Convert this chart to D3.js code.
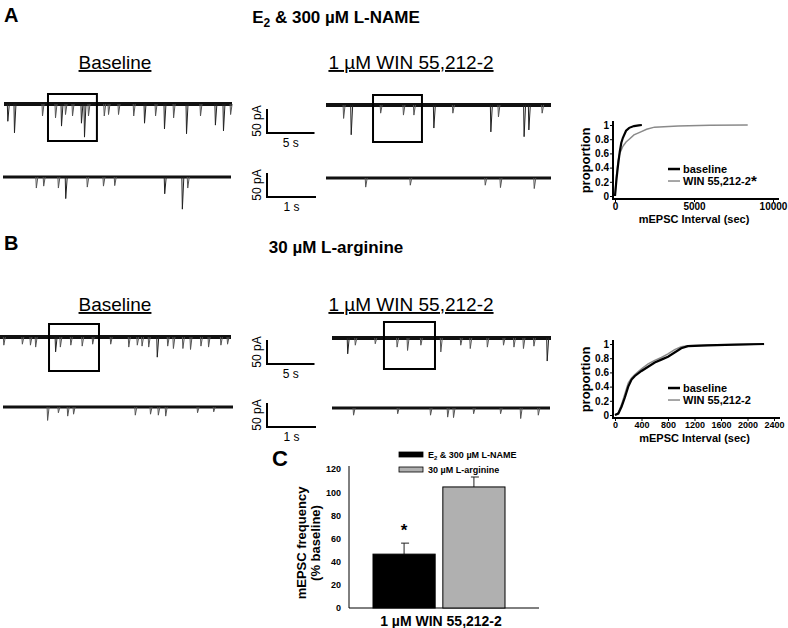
<!DOCTYPE html>
<html>
<head>
  <meta charset="UTF-8">
  <style>
    body { margin: 0; background: #fff; }
    svg text { font-family: Arial, "Liberation Sans", sans-serif; }
  </style>
</head>
<body>
<div id="fig"></div>
<script src="https://d3js.org/d3.v7.min.js"></script>
<script>

const width = 788, height = 628;

// ---- trace events: [time (s), amplitude (pA)] ----
const aBaseTop = [[0.35,36],[1.05,60],[4.0,25],[5.37,29],[6.0,46],[6.42,22],[7.16,25],[8.1,40],[8.42,69],[8.84,25],[10.5,25],[10.95,22],[12.0,22],[13.6,25],[14.74,40],[15.9,25],[16.84,52],[17.8,29],[19.16,62],[20.63,25],[22.2,44],[23.05,56],[23.8,22]];
const aBaseZoom = [[0.67,23],[0.82,19],[1.12,23],[1.27,45],[1.71,21],[2.04,19],[2.27,18],[3.29,35],[3.65,67],[3.76,23]];
const aWinTop = [[1.8,28],[2.6,62],[5.7,17],[8.1,21],[9.2,21],[11.3,48],[13.3,17],[17.3,56],[18.1,25],[20.8,66],[21.3,52],[22.7,17]];
const aWinZoom = [[0.8,19],[1.71,15],[3.24,15],[3.55,20],[4.24,22]];
const bBaseTop = [[0.35,17],[2.3,15],[3.15,17],[3.7,21],[5.8,31],[6.3,21],[7.4,17],[8.6,19],[9.7,15],[11.6,15],[13.5,21],[14.4,17],[14.9,19],[15.6,21],[16.5,42],[17.6,19],[18.2,24],[19.2,24],[20.0,26],[21.1,19],[21.9,21],[23.2,17],[23.9,15]];
const bBaseZoom = [[0.9,28],[1.12,12],[1.31,19],[1.43,15],[2.69,17],[3.0,15],[3.16,17],[3.31,19],[3.96,12],[4.29,10]];
const bWinTop = [[1.6,33],[2.4,15],[4.5,12],[6.8,19],[7.9,26],[9.3,15],[11.4,29],[13.5,15],[14.5,22],[16.3,19],[18.0,15],[19.1,19],[20.1,22],[21.2,17],[22.6,48]];
const bWinZoom = [[0.43,15],[1.33,12],[2.0,15],[2.35,19],[2.47,20],[2.88,12],[3.43,12],[3.84,22],[4.2,15]];

// ---- cumulative distributions: [interval (sec), proportion] ----
const cumABase = [[0,0],[100,0.25],[200,0.45],[300,0.62],[400,0.75],[500,0.82],[700,0.92],[900,0.96],[1200,0.985],[1500,0.995],[1700,1]];
const cumAWin = [[0,0],[100,0.3],[200,0.5],[300,0.6],[500,0.7],[700,0.76],[900,0.8],[1200,0.86],[1600,0.9],[2000,0.94],[2500,0.97],[4000,0.985],[6000,0.995],[8400,1]];
const cumBBase = [[0,0],[50,0.02],[100,0.12],[150,0.25],[200,0.4],[250,0.5],[300,0.55],[400,0.62],[500,0.68],[600,0.74],[700,0.78],[800,0.82],[900,0.88],[1000,0.94],[1100,0.97],[1400,0.98],[1800,0.99],[2250,1]];
const cumBWin = [[0,0],[50,0.03],[100,0.15],[150,0.3],[200,0.45],[250,0.52],[300,0.57],[400,0.65],[500,0.72],[600,0.77],[700,0.81],[800,0.86],[900,0.92],[1000,0.96],[1100,0.975],[1400,0.985],[1800,0.99],[2250,1]];
const cumATicksX = [0, 5000, 10000];
const cumBTicksX = [0, 400, 800, 1200, 1600, 2000, 2400];
const propTicks = [0, 0.2, 0.4, 0.6, 0.8, 1];

// ---- bar chart C ----
const barGroups = ["E2 & 300 µM L-NAME", "30 µM L-arginine"];
const barValues = [46.5, 104.5];
const barErrors = [9.5, 8.6];
const barColors = ["#000000", "#b0b0b0"];
const barTicks = [0, 20, 40, 60, 80, 100, 120];

let svg = d3.select("#fig")
  .append("svg")
  .attr("width", width)
  .attr("height", height);

// panel letters + titles
function txt(x, y, s, size, weight, anchor) {
  return svg.append("text").attr("x", x).attr("y", y)
    .attr("font-size", size).attr("font-weight", weight || "normal")
    .attr("text-anchor", anchor || "start").text(s);
}
txt(4, 22, "A", 20, "bold");
txt(4, 250, "B", 20, "bold");

let t1 = svg.append("text").attr("x", 336).attr("y", 23).attr("font-size", 17)
  .attr("font-weight", "bold").attr("text-anchor", "middle");
t1.append("tspan").text("E");
t1.append("tspan").attr("font-size", 12).attr("dy", 4).text("2");
t1.append("tspan").attr("dy", -4).text(" & 300 µM L-NAME");
txt(336, 253, "30 µM L-arginine", 17, "bold", "middle");

// underlined condition labels
[[115, 69], [115, 311]].forEach(p => txt(p[0], p[1], "Baseline", 19, "normal", "middle").attr("text-decoration", "underline"));
[[411, 69], [411, 311]].forEach(p => txt(p[0], p[1], "1 µM WIN 55,212-2", 19, "normal", "middle").attr("text-decoration", "underline"));

// ---- traces ----
const pxPerPA = 24 / 50;
function drawTrace(events, x0, x1, y0, pps, band) {
  let x = d3.scaleLinear().domain([0, (x1 - x0) / pps]).range([x0, x1]);
  let y = d3.scaleLinear().domain([0, 50]).range([y0, y0 + 50 * pxPerPA]);
  let g = svg.append("g");
  g.append("line").attr("x1", x0).attr("x2", x1).attr("y1", y0).attr("y2", y0)
    .attr("stroke", "#111").attr("stroke-width", band);
  g.selectAll("path").data(events).enter().append("path")
    .attr("d", d => "M" + x(d[0]) + "," + y0 + "L" + (x(d[0]) + 0.5) + "," + y(d[1]) + "L" + (x(d[0]) + 2) + "," + y0)
    .attr("fill", "none")
    .attr("stroke", d => d[1] > 30 ? "#222" : "#555")
    .attr("stroke-width", 1);
  return {x: x, y: y};
}
function zoomBox(tr, t0, dur, y0) {
  svg.append("rect")
    .attr("x", tr.x(t0)).attr("width", tr.x(t0 + dur) - tr.x(t0))
    .attr("y", y0 - 10).attr("height", 47)
    .attr("fill", "none").attr("stroke", "#000").attr("stroke-width", 2);
}
function scaleBar(tr, secs, cx, cy, label) {
  let w = tr.x(secs) - tr.x(0), h = tr.y(50) - tr.y(0);
  svg.append("path").attr("d", "M" + cx + "," + (cy - h) + "V" + cy + "H" + (cx + w))
    .attr("fill", "none").attr("stroke", "#000").attr("stroke-width", 2);
  svg.append("text").attr("transform", "translate(" + (cx - 6) + "," + (cy - h / 2) + ") rotate(-90)")
    .attr("text-anchor", "middle").attr("font-size", 12).text("50 pA");
  txt(cx + w / 2, cy + 14, label, 12, "normal", "middle");
}

let trA1 = drawTrace(aBaseTop, 4, 232, 104, 9.5, 4);
drawTrace(aBaseZoom, 3, 231, 177, 49, 3);
let trA2 = drawTrace(aWinTop, 326, 551, 105, 9.5, 4);
drawTrace(aWinZoom, 326, 551, 178, 49, 3);
let trB1 = drawTrace(bBaseTop, 0, 231, 337, 9.5, 4);
drawTrace(bBaseZoom, 3, 233, 407, 49, 3);
let trB2 = drawTrace(bWinTop, 332, 551, 338, 9.5, 4);
drawTrace(bWinZoom, 332, 550, 408, 49, 3);

zoomBox(trA1, 4.63, 5.15, 104);
zoomBox(trA2, 4.95, 5.15, 105);
zoomBox(trB1, 5.16, 5.26, 334);
zoomBox(trB2, 5.47, 5.37, 332);

let barTop = {x: d3.scaleLinear().domain([0, 1]).range([0, 9.5]), y: trA1.y};
let barZoom = {x: d3.scaleLinear().domain([0, 1]).range([0, 49]), y: trA1.y};
scaleBar(barTop, 5, 267, 133, "5 s");
scaleBar(barZoom, 1, 267, 197, "1 s");
scaleBar(barTop, 5, 267, 364, "5 s");
scaleBar(barZoom, 1, 267, 427, "1 s");

// ---- cumulative plots ----
function cumPlot(base, win, domainMax, xRange, yBottom, ticksX, star, tickFont, labelGap) {
  let x = d3.scaleLinear().domain([0, domainMax]).range(xRange);
  let y = d3.scaleLinear().domain([0, 1]).range([yBottom, yBottom - 71]);
  let g = svg.append("g");
  let axY = xRange[0] - 2, axX = yBottom + 3;
  g.append("g").attr("transform", "translate(" + axY + ",0)")
    .call(d3.axisLeft(y).tickValues(propTicks).tickFormat(d3.format("~g")).tickSize(3).tickSizeOuter(0))
    .call(a => a.select(".domain").remove())
    .call(a => a.selectAll("text").attr("font-size", 10).attr("font-weight", "bold").attr("x", -4));
  g.append("g").attr("transform", "translate(0," + axX + ")")
    .call(d3.axisBottom(x).tickValues(ticksX).tickFormat(d3.format("d")).tickSize(3).tickSizeOuter(0))
    .call(a => a.select(".domain").remove())
    .call(a => a.selectAll("text").attr("font-size", tickFont).attr("font-weight", "bold").attr("y", 4));
  g.append("line").attr("x1", axY).attr("x2", axY).attr("y1", y(1) - 4).attr("y2", axX + 1)
    .attr("stroke", "#000").attr("stroke-width", 2);
  g.append("line").attr("x1", axY - 1).attr("x2", xRange[1] + 6).attr("y1", axX).attr("y2", axX)
    .attr("stroke", "#000").attr("stroke-width", 2);
  let line = d3.line().x(d => x(d[0])).y(d => y(d[1]));
  g.append("path").datum(win).attr("d", line).attr("fill", "none").attr("stroke", "#8a8a8a").attr("stroke-width", 1.5);
  g.append("path").datum(base).attr("d", line).attr("fill", "none").attr("stroke", "#000").attr("stroke-width", 2.2);
  g.append("text").attr("transform", "translate(" + (axY - 23) + "," + y(0.5) + ") rotate(-90)")
    .attr("text-anchor", "middle").attr("font-size", 13).attr("font-weight", "bold").text("proportion");
  g.append("text").attr("x", (xRange[0] + xRange[1]) / 2).attr("y", axX + labelGap)
    .attr("text-anchor", "middle").attr("font-size", 11).attr("font-weight", "bold").text("mEPSC Interval (sec)");
  let ly = y(0.38);
  g.append("line").attr("x1", 668).attr("x2", 680).attr("y1", ly).attr("y2", ly).attr("stroke", "#000").attr("stroke-width", 2.5);
  g.append("text").attr("x", 683).attr("y", ly + 4).attr("font-size", 11).attr("font-weight", "bold").text("baseline");
  g.append("line").attr("x1", 668).attr("x2", 680).attr("y1", ly + 12).attr("y2", ly + 12).attr("stroke", "#8a8a8a").attr("stroke-width", 1.5);
  let wt = g.append("text").attr("x", 683).attr("y", ly + 16).attr("font-size", 11).attr("font-weight", "bold").text("WIN 55,212-2");
  if (star) wt.append("tspan").attr("font-size", 15).attr("dy", 1).text("*");
}
cumPlot(cumABase, cumAWin, 10000, [615, 773], 196, cumATicksX, true, 10, 24);
cumPlot(cumBBase, cumBWin, 2400, [615, 774], 415, cumBTicksX, false, 9, 24);

// ---- bar chart C ----
let xb = d3.scaleBand().domain(barGroups).range([373, 505]).paddingInner(0.11);
let yb = d3.scaleLinear().domain([0, 120]).range([608, 469]);
let gc = svg.append("g");
gc.append("g").attr("transform", "translate(349,0)")
  .call(d3.axisLeft(yb).tickValues(barTicks).tickSize(0).tickPadding(8))
  .call(a => a.select(".domain").remove())
  .call(a => a.selectAll("text").attr("font-size", 9).attr("font-weight", "bold"));
gc.append("line").attr("x1", 349).attr("x2", 349).attr("y1", 466).attr("y2", 608).attr("stroke", "#000");
gc.append("line").attr("x1", 349).attr("x2", 539).attr("y1", 608).attr("y2", 608).attr("stroke", "#000");
gc.selectAll(".err").data(barGroups).enter().append("path")
  .attr("d", (d, i) => {
    let cx = xb(d) + xb.bandwidth() / 2;
    return "M" + cx + "," + yb(barValues[i]) + "V" + yb(barValues[i] + barErrors[i]) + "M" + (cx - 3) + "," + yb(barValues[i] + barErrors[i]) + "H" + (cx + 5);
  })
  .attr("fill", "none").attr("stroke", "#222").attr("stroke-width", 1);
gc.selectAll(".bar").data(barGroups).enter().append("rect")
  .attr("x", d => xb(d)).attr("width", xb.bandwidth())
  .attr("y", (d, i) => yb(barValues[i])).attr("height", (d, i) => yb(0) - yb(barValues[i]))
  .attr("fill", (d, i) => barColors[i]).attr("stroke", "#000").attr("stroke-width", 1);
gc.append("text").attr("x", xb(barGroups[0]) + xb.bandwidth() / 2).attr("y", 536)
  .attr("text-anchor", "middle").attr("font-size", 17).attr("font-weight", "bold").text("*");
gc.append("text").attr("x", 272).attr("y", 466).attr("font-size", 22).attr("font-weight", "bold").text("C");
let yl = gc.append("text").attr("transform", "translate(306,543) rotate(-90)")
  .attr("text-anchor", "middle").attr("font-size", 13).attr("font-weight", "bold");
yl.append("tspan").attr("x", 0).attr("dy", 0).text("mEPSC frequency");
yl.append("tspan").attr("x", 0).attr("dy", 14).text("(% baseline)");
gc.append("text").attr("x", 441).attr("y", 626).attr("text-anchor", "middle")
  .attr("font-size", 14).attr("font-weight", "bold").text("1 µM WIN 55,212-2");
// legend
barGroups.forEach((d, i) => {
  let ly = 452 + i * 15;
  gc.append("rect").attr("x", 399).attr("y", ly).attr("width", 24).attr("height", 5)
    .attr("fill", barColors[i]).attr("stroke", "#000").attr("stroke-width", 0.8);
  let t = gc.append("text").attr("x", 428).attr("y", ly + 6).attr("font-size", 9).attr("font-weight", "bold");
  if (i === 0) {
    t.append("tspan").text("E");
    t.append("tspan").attr("font-size", 6).attr("dy", 2).text("2");
    t.append("tspan").attr("dy", -2).text(" & 300 µM L-NAME");
  } else {
    t.text(d);
  }
});
</script>
</body>
</html>
